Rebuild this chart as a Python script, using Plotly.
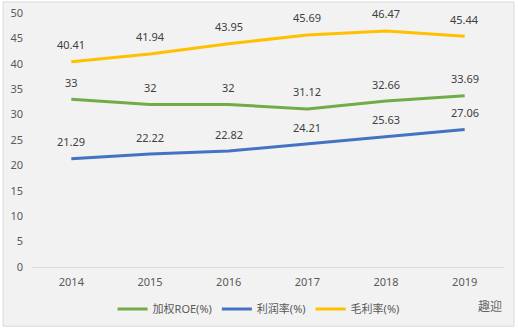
import plotly.graph_objects as go

years = ["2014", "2015", "2016", "2017", "2018", "2019"]
roe = [33, 32, 32, 31.12, 32.66, 33.69]
net_margin = [21.29, 22.22, 22.82, 24.21, 25.63, 27.06]
gross_margin = [40.41, 41.94, 43.95, 45.69, 46.47, 45.44]
names = ["加权ROE(%)", "利润率(%)", "毛利率(%)"]
colors = ["#70ad47", "#4472c4", "#ffc000"]
series = [roe, net_margin, gross_margin]

font_family = "Noto Sans, Noto Sans CJK SC, sans-serif"

fig = go.Figure()
for name, vals, c in zip(names, series, colors):
    fig.add_trace(go.Scatter(x=years, y=vals, mode="lines", name=name,
                             line=dict(color=c, width=3), hoverinfo="skip"))

annotations = []
for vals in series:
    for i, v in enumerate(vals):
        annotations.append(dict(x=i, y=v, xref="x", yref="y", text=f"{v:g}",
                                showarrow=False, yshift=17, yanchor="middle",
                                font=dict(size=11, color="#404040", family=font_family)))
annotations.append(dict(x=1.0, y=-0.152, xref="paper", yref="paper", text="趣迎",
                        showarrow=False, xanchor="right", yanchor="middle",
                        font=dict(size=12, color="#666666", family="Noto Sans CJK SC")))

fig.update_layout(
    width=518, height=329,
    margin=dict(l=32, r=14, t=13, b=62, autoexpand=False),
    paper_bgcolor="#ffffff",
    plot_bgcolor="rgba(0,0,0,0)",
    font=dict(family=font_family, size=11, color="#595959"),
    showlegend=True,
    legend=dict(orientation="h", x=0.48, xanchor="center",
                yref="container", y=0.061, yanchor="middle",
                font=dict(size=11, color="#595959"), bgcolor="rgba(0,0,0,0)",
                itemwidth=30),
    xaxis=dict(type="category", range=[-0.5, len(years) - 0.5], showgrid=False,
               showline=True, linecolor="#d9d9d9",
               linewidth=1, ticks="", tickfont=dict(size=11, color="#595959"),
               ticklabelstandoff=5, fixedrange=True),
    yaxis=dict(range=[0, 50], dtick=5, showgrid=False, zeroline=False, showline=False,
               ticks="", tickfont=dict(size=11, color="#595959"),
               ticklabelstandoff=8, fixedrange=True),
    annotations=annotations,
    shapes=[dict(type="rect", xref="paper", yref="paper",
                 x0=-0.0614, x1=1.0212, y0=-0.2332, y1=1.0435,
                 fillcolor="#f2f2f2", line=dict(color="#d9d9d9", width=1), layer="below")],
)

fig.write_html("out.html")
